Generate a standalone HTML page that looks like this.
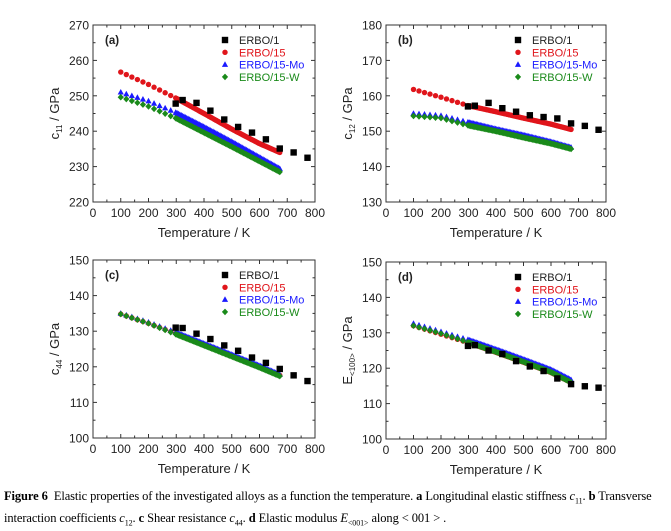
<!DOCTYPE html>
<html><head><meta charset="utf-8"><style>
html,body{margin:0;padding:0;background:#fff;width:671px;height:527px;overflow:hidden}
svg{position:absolute;left:0;top:0}
.cap{position:absolute;left:4px;top:488px;width:667px;font-family:"Liberation Serif",serif;font-size:12.5px;letter-spacing:-0.1px;line-height:16px;color:#000;white-space:nowrap}
</style></head><body>
<svg id="s" width="671" height="527" xmlns="http://www.w3.org/2000/svg" font-family="Liberation Sans, sans-serif"></svg>
<div class="cap"><b>Figure 6</b>&nbsp; Elastic properties of the investigated alloys as a function the temperature. <b>a</b> Longitudinal elastic stiffness <i>c</i><sub style="font-size:8px">11</sub>. <b>b</b> Transverse<br>interaction coefficients <i>c</i><sub style="font-size:8px">12</sub>. <b>c</b> Shear resistance <i>c</i><sub style="font-size:8px">44</sub>. <b>d</b> Elastic modulus <i>E</i><sub style="font-size:8px">&lt;001&gt;</sub> along &lt; 001 &gt; .</div>
<script>
const S=document.getElementById('s');let h='';
const T1=[298,323,373,423,473,523,573,623,673,723,773];
function interp(pts,t){for(let i=0;i<pts.length-1;i++){if(t<=pts[i+1][0]){const a=pts[i],b=pts[i+1];return a[1]+(b[1]-a[1])*(t-a[0])/(b[0]-a[0]);}}return pts[pts.length-1][1];}
function temps(){const r=[];for(let t=100;t<300;t+=20)r.push(t);for(let t=298;t<=673;t+=5)r.push(t);return r;}
const panels=[
{x0:93,x1:315,y0:25,y1:202,ymin:220,ymax:270,lab:'(a)',yl:'c',sub:'11',
 e1:[247.8,248.8,248,245.8,243.3,241.2,239.6,237.7,235.1,234,232.5],
 r:[[100,256.7],[200,253.2],[300,249.3],[400,245],[500,240.6],[600,236.5],[673,234]],
 b:[[100,251],[200,248.5],[300,245.2],[400,241.2],[500,237],[600,232.6],[673,229.4]],
 g:[[100,249.6],[200,247],[300,243.6],[400,239.6],[500,235.6],[600,231.5],[673,228.5]]},
{x0:386,x1:606,y0:25,y1:202,ymin:130,ymax:180,lab:'(b)',yl:'c',sub:'12',
 e1:[157,157.2,158,156.5,155.5,154.5,154,153.6,152.2,151.5,150.4],
 r:[[100,161.8],[200,159.6],[300,157.2],[400,155.5],[500,153.7],[600,152],[673,150.5]],
 b:[[100,155],[200,154.4],[300,152.5],[400,150.6],[500,148.9],[600,147],[673,145.4]],
 g:[[100,154.3],[200,153.7],[300,151.6],[400,150],[500,148.2],[600,146.5],[673,145]]},
{x0:93,x1:315,y0:260,y1:438,ymin:100,ymax:150,lab:'(c)',yl:'c',sub:'44',
 e1:[131,130.9,129.3,127.8,126,124.5,122.6,121.1,119.4,117.6,116],
 r:[[100,134.8],[200,132.2],[300,129.3],[400,126.2],[500,123.1],[600,120],[673,117.6]],
 b:[[100,135],[200,132.5],[300,129.6],[400,126.5],[500,123.4],[600,120.3],[673,117.8]],
 g:[[100,134.8],[200,132.2],[300,129.1],[400,126],[500,122.9],[600,119.8],[673,117.4]]},
{x0:386,x1:606,y0:262,y1:439,ymin:100,ymax:150,lab:'(d)',yl:'E',sub:'<100>',
 e1:[126.3,126.5,125,124,122,120.5,119.2,117.1,115.5,114.9,114.5],
 r:[[100,132],[200,129.6],[300,127.2],[400,124.5],[500,121.7],[600,118.8],[673,116]],
 b:[[100,132.6],[200,130.3],[300,128],[400,125.3],[500,122.5],[600,119.6],[673,116.7]],
 g:[[100,132],[200,129.8],[300,127.3],[400,124.6],[500,121.8],[600,118.9],[673,116]]}
];
const RED='#e0151b',BLU='#1a1aff',GRN='#1a8a1a';
function sq(x,y){return `<rect x="${x-3.2}" y="${y-3.2}" width="6.4" height="6.4" fill="#000"/>`;}
function ci(x,y){return `<circle cx="${x}" cy="${y}" r="2.7" fill="${RED}"/>`;}
function tr(x,y){return `<path d="M${x} ${y-3.3}L${x+3.1} ${y+2.3}L${x-3.1} ${y+2.3}Z" fill="${BLU}"/>`;}
function di(x,y){return `<path d="M${x} ${y-3.3}L${x+3.1} ${y}L${x} ${y+3.3}L${x-3.1} ${y}Z" fill="${GRN}"/>`;}
for(const p of panels){
 const X=t=>p.x0+(p.x1-p.x0)*t/800, Y=v=>p.y1-(p.y1-p.y0)*(v-p.ymin)/(p.ymax-p.ymin);
 h+=`<rect x="${p.x0}" y="${p.y0}" width="${p.x1-p.x0}" height="${p.y1-p.y0}" fill="none" stroke="#333" stroke-width="1"/>`;
 for(let t=0;t<=800;t+=50){const x=X(t),L=t%100==0?4:2.5;h+=`<line x1="${x}" y1="${p.y1}" x2="${x}" y2="${p.y1-L}" stroke="#333"/><line x1="${x}" y1="${p.y0}" x2="${x}" y2="${p.y0+L}" stroke="#333"/>`;
  if(t%100==0)h+=`<text x="${x}" y="${p.y1+15}" font-size="12" text-anchor="middle" fill="#222">${t}</text>`;}
 for(let v=p.ymin;v<=p.ymax;v+=5){const y=Y(v),L=v%10==0?4:2.5;h+=`<line x1="${p.x0}" y1="${y}" x2="${p.x0+L}" y2="${y}" stroke="#333"/><line x1="${p.x1}" y1="${y}" x2="${p.x1-L}" y2="${y}" stroke="#333"/>`;
  if(v%10==0)h+=`<text x="${p.x0-4}" y="${y+4.5}" font-size="12" text-anchor="end" fill="#222">${v}</text>`;}
 const cx=(p.x0+p.x1)/2;
 h+=`<text x="${cx}" y="${p.y1+35}" font-size="13" text-anchor="middle" fill="#222">Temperature / K</text>`;
 const ly=(p.y0+p.y1)/2, lx=p.x0-34;
 const sub=p.sub.replace('<','&lt;').replace('>','&gt;');
 h+=`<text transform="translate(${lx},${ly}) rotate(-90)" font-size="13" text-anchor="middle" fill="#222">${p.yl}<tspan font-size="8" dy="3">${sub}</tspan><tspan dy="-3"> / GPa</tspan></text>`;
 h+=`<text x="${p.x0+12}" y="${p.y0+19}" font-size="11.5" font-weight="bold" fill="#222">${p.lab}</text>`;
 const T=temps();
 for(const t of T)h+=ci(X(t),Y(interp(p.r,t)));
 for(const t of T)h+=tr(X(t),Y(interp(p.b,t)));
 for(const t of T)h+=di(X(t),Y(interp(p.g,t)));
 T1.forEach((t,i)=>h+=sq(X(t),Y(p.e1[i])));
 const mx=p.x0+132, tx=p.x0+146;
 const leg=[['ERBO/1','#222',sq],['ERBO/15',RED,ci],['ERBO/15-Mo',BLU,tr],['ERBO/15-W',GRN,di]];
 leg.forEach((l,i)=>{const y=p.y0+15+i*12.3;h+=l[2](mx,y);h+=`<text x="${tx}" y="${y+4}" font-size="11" fill="${l[1]}">${l[0]}</text>`;});
}
S.innerHTML=h;
</script>
</body></html>
